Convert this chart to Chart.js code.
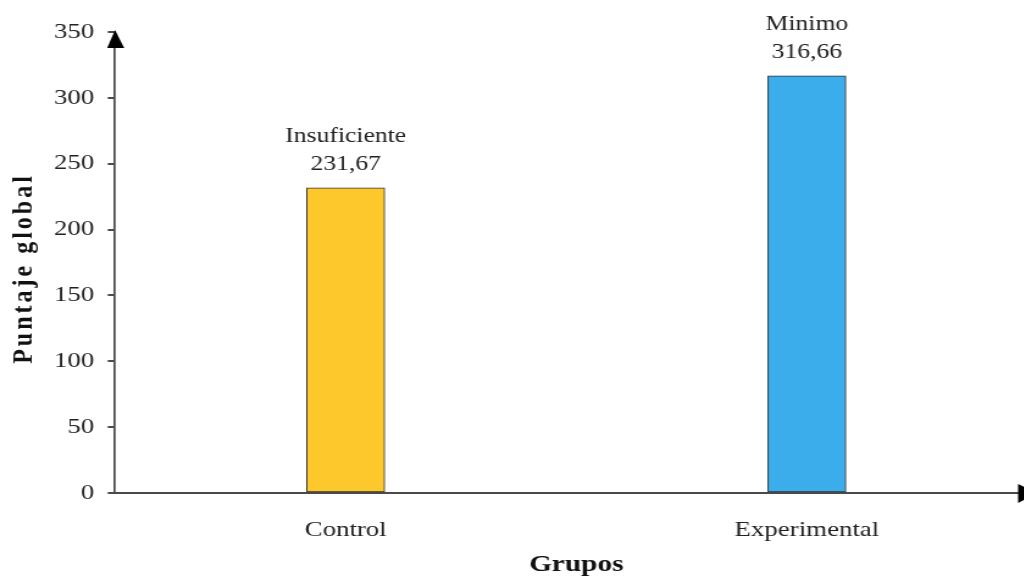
<!doctype html><html lang="es">
<head>
<meta charset="utf-8">
<title>Puntaje global por grupo</title>
<script src="https://cdn.jsdelivr.net/npm/chart.js@4"></script>
<style>
html,body{margin:0;padding:0;background:#fff;overflow:hidden}
/* el original esta estirado en horizontal: se dibuja a 852px y se estira x1.22 */
#wrap{position:relative;width:852px;height:581px;transform:scaleX(1.22);transform-origin:0 0}
</style>
</head>
<body>
<div id="wrap"><canvas id="chart"></canvas></div>
<script>
// datos
const grupos=['Control','Experimental'];
const puntajes=[231.67,316.66];
const niveles=['Insuficiente','Minimo'];
const colores=['#FCC82B','#3AADEA'];
const yTicks=[0,50,100,150,200,250,300,350];
const yTitulo='Puntaje global';

const serif='"Liberation Serif","DejaVu Serif",serif';
const axisColor='#4a4a4a';

// etiquetas encima de cada barra
const barLabels={id:'barLabels',afterDatasetsDraw(chart){
  const ctx=chart.ctx;const meta=chart.getDatasetMeta(0);
  ctx.save();ctx.fillStyle='#222';ctx.font='21px '+serif;ctx.textAlign='center';ctx.textBaseline='alphabetic';
  meta.data.forEach((bar,i)=>{
    const val=puntajes[i].toFixed(2).replace('.',',');
    ctx.fillText(val,bar.x,bar.y-18);
    ctx.fillText(niveles[i],bar.x,bar.y-46);
  });
  ctx.restore();
}};

// titulo del eje y (espaciado como en el original) y flechas
const extras={id:'extras',afterDraw(chart){
  const ctx=chart.ctx,a=chart.chartArea;
  ctx.save();
  ctx.translate(19.5,270);ctx.rotate(-Math.PI/2);
  ctx.font='bold 24px '+serif;ctx.fillStyle='#111';ctx.textAlign='center';ctx.textBaseline='middle';
  ctx.letterSpacing='3px';
  ctx.fillText(yTitulo,1.5,0);
  ctx.restore();
  ctx.save();ctx.fillStyle='#000';
  ctx.beginPath();ctx.moveTo(a.left,a.top-2);ctx.lineTo(a.left-6.5,a.top+16);ctx.lineTo(a.left+7.5,a.top+16);ctx.closePath();ctx.fill();
  ctx.beginPath();ctx.moveTo(850,a.bottom);ctx.lineTo(834.5,a.bottom-9);ctx.lineTo(834.5,a.bottom+10);ctx.closePath();ctx.fill();
  ctx.restore();
}};

new Chart(document.getElementById('chart'),{
  type:'bar',
  data:{labels:grupos,datasets:[{data:puntajes,backgroundColor:colores,borderColor:'#333',borderWidth:1,borderSkipped:false,barThickness:64}]},
  options:{
    responsive:true,maintainAspectRatio:false,animation:false,
    layout:{padding:{top:32,right:1.6,left:0,bottom:0}},
    plugins:{legend:{display:false},tooltip:{enabled:false}},
    scales:{
      x:{
        grid:{display:false},
        border:{display:true,color:axisColor,width:2},
        ticks:{color:'#222',font:{family:serif,size:22},padding:16},
        title:{display:true,text:'Grupos',color:'#111',font:{family:serif,size:24,weight:'bold'},padding:{top:0,bottom:2}},
        afterFit(s){s.height=88;}
      },
      y:{
        min:0,max:350,
        afterBuildTicks(s){s.ticks=yTicks.map(v=>({value:v}));},
        grid:{drawOnChartArea:false,drawTicks:true,tickLength:6,color:axisColor,lineWidth:2},
        border:{display:true,color:axisColor,width:1.7},
        ticks:{color:'#222',font:{family:serif,size:22},padding:11},
        title:{display:false},
        afterFit(s){s.width=94.3;}
      }
    }
  },
  plugins:[barLabels,extras]
});
</script>
</body></html>
